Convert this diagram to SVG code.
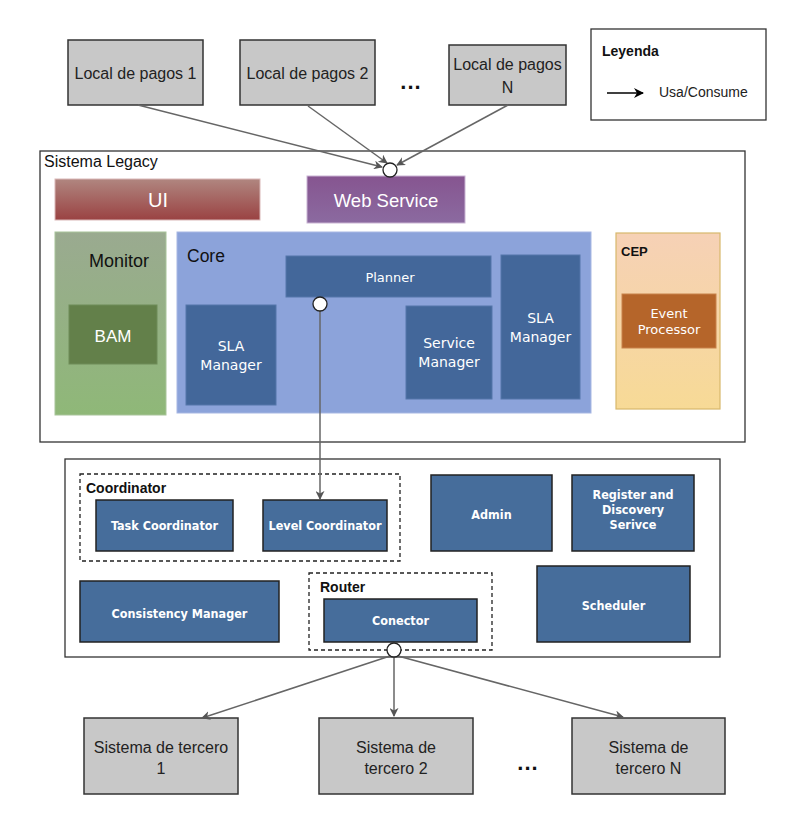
<svg xmlns="http://www.w3.org/2000/svg" width="810" height="832" viewBox="0 0 810 832">
<defs>
<linearGradient id="gUI" x1="0" y1="0" x2="0" y2="1"><stop offset="0" stop-color="#b08680"/><stop offset="1" stop-color="#9a4242"/></linearGradient>
<linearGradient id="gWS" x1="0" y1="0" x2="0" y2="1"><stop offset="0" stop-color="#865590"/><stop offset="1" stop-color="#8b6aa0"/></linearGradient>
<linearGradient id="gMon" x1="0" y1="0" x2="0" y2="1"><stop offset="0" stop-color="#9aaa90"/><stop offset="1" stop-color="#8fb878"/></linearGradient>
<linearGradient id="gCEP" x1="0" y1="0" x2="0" y2="1"><stop offset="0" stop-color="#f6d1b6"/><stop offset="1" stop-color="#f7da96"/></linearGradient>
<marker id="ah" viewBox="0 0 10 10" refX="9" refY="5" markerWidth="9" markerHeight="9" markerUnits="userSpaceOnUse" orient="auto"><path d="M0,0 L10,5 L0,10 L3,5 z" fill="#555"/></marker>
<marker id="ahk" viewBox="0 0 10 10" refX="9" refY="5" markerWidth="10" markerHeight="10" markerUnits="userSpaceOnUse" orient="auto"><path d="M0,0 L10,5 L0,10 L3,5 z" fill="#000"/></marker>
</defs>
<style>
.ext{fill:#c8c8c8;stroke:#333;stroke-width:1.5}
.ext-t{font-family:"Liberation Sans",Arial,sans-serif;font-size:16px;fill:#222;text-anchor:middle}
.dots{font-family:"Liberation Sans",Arial,sans-serif;font-size:22px;font-weight:bold;fill:#111;text-anchor:middle;letter-spacing:1px}
.frame{fill:#fff;stroke:#333;stroke-width:1.3}
.blue{fill:#43679a;stroke:#5577aa;stroke-width:1}
.blue2{fill:#466d9b;stroke:#222;stroke-width:1.5}
.wt{font-family:"DejaVu Sans",sans-serif;font-size:13px;fill:#fff;text-anchor:middle}
.wm{font-family:"DejaVu Sans",sans-serif;font-size:14px;fill:#fff;text-anchor:middle}
.wb{font-family:"DejaVu Sans Condensed","DejaVu Sans",sans-serif;font-size:12.5px;font-weight:bold;fill:#fff;text-anchor:middle}
.dash{fill:none;stroke:#222;stroke-width:1.3;stroke-dasharray:4,3}
.lbl{font-family:"Liberation Sans",Arial,sans-serif;fill:#111}
.bl{font-family:"Liberation Sans",Arial,sans-serif;font-size:14px;font-weight:bold;fill:#111}
.conn{stroke:#666;stroke-width:1.5;fill:none}
.port{fill:#fff;stroke:#222;stroke-width:1.3}
</style>

<g id="local1"><rect class="ext" x="68" y="40" width="135" height="65"/><text class="ext-t" x="135.5" y="79">Local de pagos 1</text></g>
<g id="local2"><rect class="ext" x="240" y="40" width="135" height="65"/><text class="ext-t" x="307.5" y="79">Local de pagos 2</text></g>
<text class="dots" x="411" y="89">...</text>
<g id="localN"><rect class="ext" x="449" y="45" width="117" height="60"/><text class="ext-t" x="507.5" y="70">Local de pagos</text><text class="ext-t" x="507.5" y="93">N</text></g>

<g id="legend"><rect class="frame" x="591" y="29" width="175" height="91"/><text class="bl" x="602" y="56">Leyenda</text>
<line x1="607" y1="93" x2="643" y2="93" stroke="#000" stroke-width="1.5" marker-end="url(#ahk)"/>
<text x="659" y="97" font-family="Liberation Sans,Arial,sans-serif" font-size="14" fill="#222">Usa/Consume</text></g>

<g id="legacy"><rect class="frame" x="40" y="151" width="705" height="291"/><text class="lbl" x="44" y="167" font-size="16">Sistema Legacy</text></g>
<g id="ui"><rect x="55" y="179" width="205" height="41" fill="url(#gUI)" stroke="#d9b8b8" stroke-width="1"/><text x="158" y="207" font-family="Liberation Sans,Arial,sans-serif" font-size="20" fill="#fff" text-anchor="middle">UI</text></g>
<g id="webservice"><rect x="307" y="176" width="158" height="47" fill="url(#gWS)" stroke="#c9b4d3" stroke-width="1"/><text x="386" y="207" font-family="Liberation Sans,Arial,sans-serif" font-size="18.5" fill="#fff" text-anchor="middle">Web Service</text></g>
<g id="monitor"><rect x="55" y="232" width="111" height="183" fill="url(#gMon)" stroke="#a8c49a" stroke-width="1"/><text class="lbl" x="119" y="267" font-size="18" text-anchor="middle">Monitor</text></g>
<g id="bam"><rect x="69" y="305" width="88" height="59" fill="#63804a" stroke="#6e8c58"/><text x="113" y="342" font-family="Liberation Sans,Arial,sans-serif" font-size="17" fill="#fff" text-anchor="middle">BAM</text></g>
<g id="core"><rect x="177" y="232" width="414" height="181" fill="#8ca3da" stroke="#a7b7e3" stroke-width="1"/><text class="lbl" x="187" y="262" font-size="17.5">Core</text></g>
<g id="planner"><rect class="blue" x="286" y="256" width="205" height="41"/><text class="wt" x="390" y="282">Planner</text></g>
<g id="sla1"><rect class="blue" x="186" y="305" width="90" height="100"/><text class="wm" x="231" y="351">SLA</text><text class="wm" x="231" y="370">Manager</text></g>
<g id="servicemgr"><rect class="blue" x="406" y="306" width="86" height="93"/><text class="wm" x="449" y="348">Service</text><text class="wm" x="449" y="367">Manager</text></g>
<g id="sla2"><rect class="blue" x="501" y="255" width="79" height="144"/><text class="wm" x="540.5" y="323">SLA</text><text class="wm" x="540.5" y="342">Manager</text></g>
<g id="cep"><rect x="616" y="233" width="104" height="176" fill="url(#gCEP)" stroke="#d8b86c" stroke-width="1.2"/><text x="621" y="256" font-family="Liberation Sans,Arial,sans-serif" font-size="13" font-weight="bold" fill="#111">CEP</text></g>
<g id="eventproc"><rect x="622" y="294" width="94" height="54" fill="#b5652a" stroke="#c8824a"/><text class="wt" x="669" y="318" font-size="12.5">Event</text><text class="wt" x="669" y="334" font-size="12.5">Processor</text></g>

<g id="backend"><rect class="frame" x="65" y="459" width="655" height="198"/></g>
<g id="coordinator"><rect class="dash" x="80" y="474" width="320" height="87"/><text class="bl" x="86" y="493" font-size="16">Coordinator</text></g>
<g id="taskcoord"><rect class="blue2" x="96" y="500" width="137" height="51"/><text class="wb" x="164.5" y="530">Task Coordinator</text></g>
<g id="levelcoord"><rect class="blue2" x="263" y="500" width="124" height="51"/><text class="wb" x="325" y="530">Level Coordinator</text></g>
<g id="admin"><rect class="blue2" x="431" y="475" width="121" height="76"/><text class="wb" x="491.5" y="519">Admin</text></g>
<g id="register"><rect class="blue2" x="572" y="475" width="122" height="76"/><text class="wb" x="633" y="499">Register and</text><text class="wb" x="633" y="514">Discovery</text><text class="wb" x="633" y="529">Serivce</text></g>
<g id="consistency"><rect class="blue2" x="80" y="581" width="199" height="61"/><text class="wb" x="179.5" y="618">Consistency Manager</text></g>
<g id="router"><rect class="dash" x="309" y="573" width="183" height="77"/><text class="bl" x="320" y="592">Router</text></g>
<g id="conector"><rect class="blue2" x="324" y="599" width="153" height="43"/><text class="wb" x="400.5" y="625">Conector</text></g>
<g id="scheduler"><rect class="blue2" x="537" y="566" width="153" height="76"/><text class="wb" x="613.5" y="610">Scheduler</text></g>

<g id="ter1"><rect class="ext" x="84" y="718" width="154" height="76"/><text class="ext-t" x="161" y="753">Sistema de tercero</text><text class="ext-t" x="161" y="774">1</text></g>
<g id="ter2"><rect class="ext" x="319" y="718" width="154" height="76"/><text class="ext-t" x="396" y="753">Sistema de</text><text class="ext-t" x="396" y="774">tercero 2</text></g>
<text class="dots" x="528" y="770">...</text>
<g id="terN"><rect class="ext" x="572" y="718" width="153" height="76"/><text class="ext-t" x="648.5" y="753">Sistema de</text><text class="ext-t" x="648.5" y="774">tercero N</text></g>

<g id="connectors">
<line class="conn" x1="138" y1="105" x2="382" y2="167" marker-end="url(#ah)"/>
<line class="conn" x1="308" y1="106" x2="387" y2="163" marker-end="url(#ah)"/>
<line class="conn" x1="508" y1="105" x2="397" y2="165" marker-end="url(#ah)"/>
<circle class="port" cx="390" cy="170" r="7"/>
<line class="conn" x1="320" y1="311" x2="320" y2="499" marker-end="url(#ah)"/>
<circle class="port" cx="320" cy="304" r="7"/>
<line class="conn" x1="390" y1="656" x2="202" y2="718" marker-end="url(#ah)"/>
<line class="conn" x1="394" y1="657" x2="394" y2="716" marker-end="url(#ah)"/>
<line class="conn" x1="398" y1="656" x2="623" y2="717" marker-end="url(#ah)"/>
<circle class="port" cx="394" cy="650" r="7"/>
</g>
</svg>
